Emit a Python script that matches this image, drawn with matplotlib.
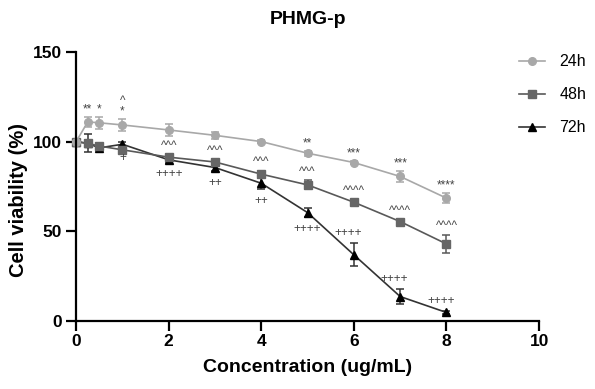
import matplotlib.pyplot as plt

plt.rcParams['font.family'] = ['Liberation Sans', 'DejaVu Sans']

# concentration (ug/mL)
conc = [0, 0.25, 0.5, 1, 2, 3, 4, 5, 6, 7, 8]

via_24 = [100, 111, 110.5, 109.3, 106.5, 103.5, 100, 93.5, 88.3, 80.5, 68.4]
err_24 = [0.5, 3, 3.5, 3.4, 3.4, 2, 1, 1.5, 1, 3, 2.8]
via_48 = [100, 99, 97.5, 95.4, 91.3, 88.6, 81.8, 75.8, 66.1, 55.3, 42.8]
err_48 = [0.5, 2, 1.5, 1.5, 1.5, 1.5, 2, 2.5, 1.5, 1.2, 5]
via_72 = [100, 99, 96.5, 98.5, 89.8, 85.5, 76.7, 60.3, 36.7, 13.4, 4.5]
err_72 = [0.5, 5, 1, 1, 1.5, 2, 3.2, 2.5, 6.5, 4.2, 0.8]

# significance marks (empty = none)
sig_24 = ['', '**', '*', '^\n*', '', '', '', '**', '***', '***', '****']
sig_48 = ['', '', '', '', '^^^', '^^^', '^^^', '^^^', '^^^^', '^^^^', '^^^^']
sig_72 = ['', '', '', '+', '++++', '++', '++', '++++', '++++', '++++', '++++']
above_72 = [False, False, False, False, False, False, False, False, True, True, True]

fig = plt.figure(figsize=(5.95, 3.89), dpi=100)
ax = fig.add_axes([0.128, 0.176, 0.778, 0.69])

series = [
    ('72h', via_72, err_72, '^', 'black', '#333333', 6),
    ('48h', via_48, err_48, 's', '#666666', '#595959', 5.5),
    ('24h', via_24, err_24, 'o', '#a8a8a8', '#a8a8a8', 5.5),
]
handles = {}
for name, v, e, mk, mc, lc, ms in series:
    ax.errorbar(conc, v, yerr=e, fmt='none', ecolor=lc, elinewidth=1.1,
                capsize=3, capthick=1.1, clip_on=False)
    h, = ax.plot(conc, v, marker=mk, color=lc, markerfacecolor=mc,
                 markeredgecolor=mc, markersize=ms, linewidth=1.2,
                 clip_on=False, label=name)
    handles[name] = h

txt = dict(ha='center', fontsize=8.5, color='#444444',
           textcoords='offset points', linespacing=0.85)
for x, v, e, s in zip(conc, via_24, err_24, sig_24):
    if s:
        ax.annotate(s, (x, v + e), xytext=(0, 1), va='bottom', **txt)
for x, v, e, s in zip(conc, via_48, err_48, sig_48):
    if s:
        ax.annotate(s, (x, v + e), xytext=(0, 2), va='bottom', **txt)
for x, v, e, s, up in zip(conc, via_72, err_72, sig_72, above_72):
    if not s:
        continue
    if up:
        ax.annotate(s, (x, v + e), xytext=(-4, 3), va='bottom', **txt)
    else:
        ax.annotate(s, (x, v - e), xytext=(0, -4), va='top', **txt)

ax.set_xlim(0, 10)
ax.set_ylim(0, 150)
ax.set_xticks([0, 2, 4, 6, 8, 10])
ax.set_yticks([0, 50, 100, 150])
for sp in ['top', 'right']:
    ax.spines[sp].set_visible(False)
for sp in ['left', 'bottom']:
    ax.spines[sp].set_linewidth(1.6)
ax.tick_params(length=7, width=1.6, labelsize=12.5, pad=3)
for lab in ax.get_xticklabels() + ax.get_yticklabels():
    lab.set_fontweight('bold')

ax.set_xlabel('Concentration (ug/mL)', fontsize=14, fontweight='bold', labelpad=7)
ax.set_ylabel('Cell viability (%)', fontsize=14.5, fontweight='bold')
ax.yaxis.set_label_coords(-0.105, 0.45)
ax.set_title('PHMG-p', fontsize=14, fontweight='bold', pad=20)

fig.legend([handles['24h'], handles['48h'], handles['72h']], ['24h', '48h', '72h'],
           loc='upper left', bbox_to_anchor=(0.872, 0.86), frameon=False,
           fontsize=11.5, handlelength=1.65, handletextpad=0.9, labelspacing=1.12,
           borderpad=0, borderaxespad=0)

fig.savefig('out.png', dpi=100)
